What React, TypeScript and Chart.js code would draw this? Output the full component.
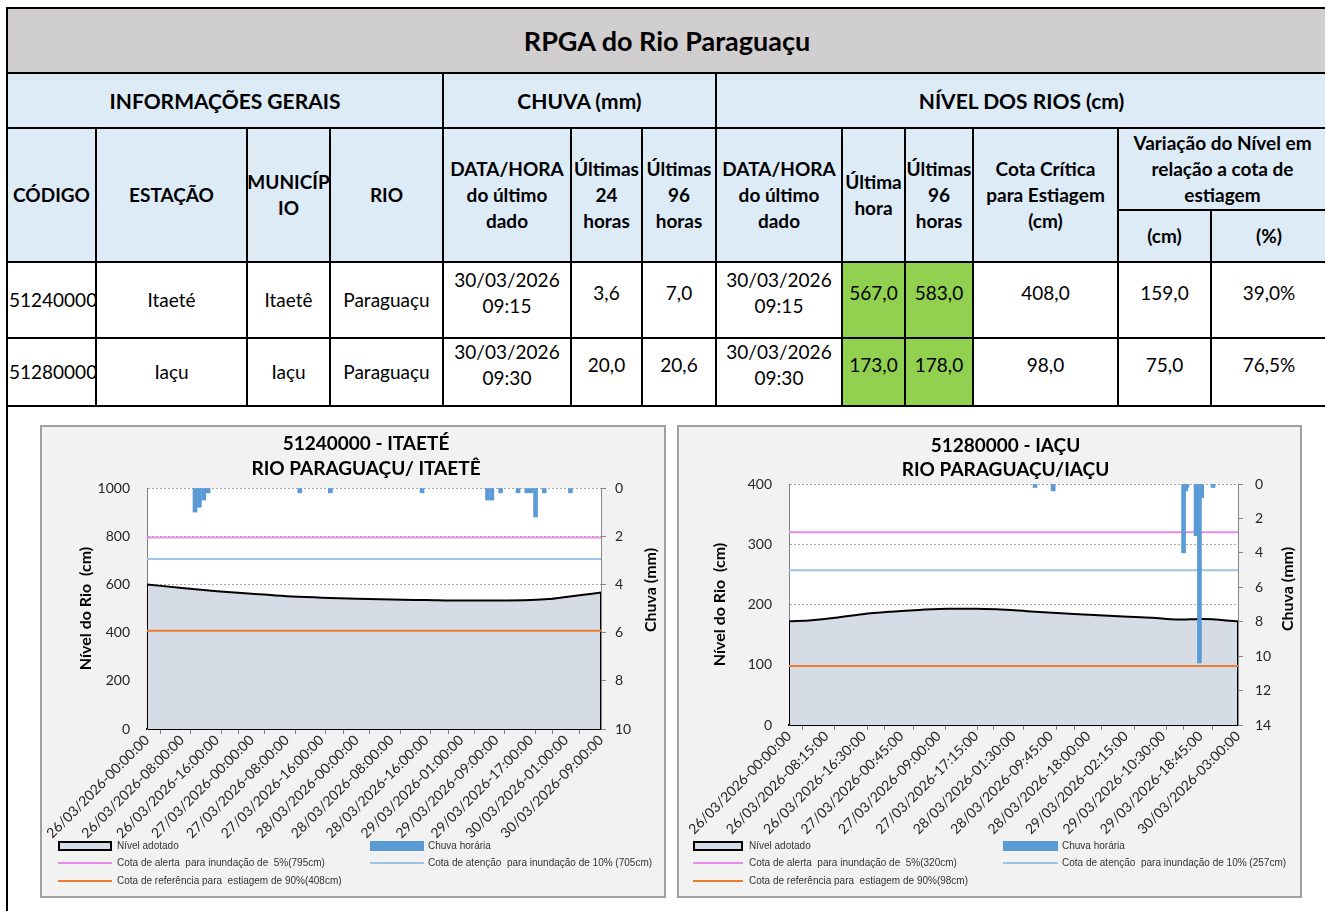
import React, { useEffect, useRef } from 'react';
import { Chart, registerables } from 'chart.js';

Chart.register(...registerables);
Chart.defaults.font.family = 'Lato';

// ---------------- table data ----------------
const TITLE = 'RPGA do Rio Paraguaçu';
const codigos = ['51240000', '51280000'];
const estacoes = ['Itaeté', 'Iaçu'];
const municipios = ['Itaetê', 'Iaçu'];
const rios = ['Paraguaçu', 'Paraguaçu'];
const chuvaDataHora = [['30/03/2026', '09:15'], ['30/03/2026', '09:30']];
const chuva24h = ['3,6', '20,0'];
const chuva96h = ['7,0', '20,6'];
const nivelDataHora = [['30/03/2026', '09:15'], ['30/03/2026', '09:30']];
const nivelUltimaHora = ['567,0', '173,0'];
const nivel96h = ['583,0', '178,0'];
const cotaCritica = ['408,0', '98,0'];
const variacaoCm = ['159,0', '75,0'];
const variacaoPct = ['39,0%', '76,5%'];

// ---------------- chart data: 51240000 - Itaeté (hourly index) ----------------
const ITAETE_TITLE = ['51240000 - ITAETÉ', 'RIO PARAGUAÇU/ ITAETÊ'];
const ITAETE_X_LABELS = [
  '26/03/2026-00:00:00', '26/03/2026-08:00:00', '26/03/2026-16:00:00', '27/03/2026-00:00:00',
  '27/03/2026-08:00:00', '27/03/2026-16:00:00', '28/03/2026-00:00:00', '28/03/2026-08:00:00',
  '28/03/2026-16:00:00', '29/03/2026-01:00:00', '29/03/2026-09:00:00', '29/03/2026-17:00:00',
  '30/03/2026-01:00:00', '30/03/2026-09:00:00',
];
const ITAETE_LEVEL: number[][] = [
  [0, 600], [8, 585], [16, 572], [24, 561], [32, 551], [40, 545], [48, 540], [56, 537],
  [64, 535], [72, 533], [80, 533], [88, 535], [92, 539], [96, 548], [100, 557], [104, 566],
];
const ITAETE_RAIN: number[][] = [
  [11, 1.0], [12, 0.8], [13, 0.5], [14, 0.2], [35, 0.2], [42, 0.2], [63, 0.2], [78, 0.5],
  [79, 0.5], [81, 0.2], [85, 0.2], [87, 0.2], [88, 0.2], [89, 1.2], [91, 0.2], [97, 0.2],
];
const ITAETE_ALERT = 795;
const ITAETE_ATTENTION = 705;
const ITAETE_DROUGHT = 408;

// ---------------- chart data: 51280000 - Iaçu (15-minute index) ----------------
const IACU_TITLE = ['51280000 - IAÇU', 'RIO PARAGUAÇU/IAÇU'];
const IACU_X_LABELS = [
  '26/03/2026-00:00:00', '26/03/2026-08:15:00', '26/03/2026-16:30:00', '27/03/2026-00:45:00',
  '27/03/2026-09:00:00', '27/03/2026-17:15:00', '28/03/2026-01:30:00', '28/03/2026-09:45:00',
  '28/03/2026-18:00:00', '29/03/2026-02:15:00', '29/03/2026-10:30:00', '29/03/2026-18:45:00',
  '30/03/2026-03:00:00',
];
const IACU_LEVEL: number[][] = [
  [0, 172], [20, 174], [41, 178], [65, 184], [90, 188], [115, 191], [141, 193], [165, 193],
  [183, 192], [210, 189], [236, 186], [265, 183], [295, 180], [320, 178], [343, 175], [365, 176],
  [396, 172],
];
const IACU_RAIN: number[][] = [
  [217, 0.2], [233, 0.4], [348, 4.0], [350, 0.4], [351, 0.2], [359, 3.0], [362, 10.4], [364, 0.8],
  [374, 0.2],
];
const IACU_ALERT = 320;
const IACU_ATTENTION = 257;
const IACU_DROUGHT = 98;

// ---------------- styles ----------------
const C_LEVEL_FILL = '#d6dce5';
const C_RAIN = '#5b9bd5';
const C_ALERT = '#e88ce8';
const C_ATTENTION = '#9dc3e6';
const C_DROUGHT = '#ed7d31';
const C_TEXT = '#262626';

type Station = {
  title: string[];
  xLabels: string[];
  labelStep: number;
  markStep: number;
  xMax: number;
  level: number[][];
  rain: number[][];
  alert: number;
  attention: number;
  drought: number;
  yMax: number;
  yStep: number;
  rainMax: number;
};

type Layout = {
  box: number[];
  canvas: number[];
  padTop: number;
  yW: number;
  y1W: number;
  xH: number;
  yTitlePad: number;
  y1Pad: number;
  titleBase: number[];
  rightTitleY: number;
  legend: { col1: number[]; col2: number[]; rows: number[] };
};

const ITAETE: Station = {
  title: ITAETE_TITLE, xLabels: ITAETE_X_LABELS, labelStep: 8, markStep: 6, xMax: 104,
  level: ITAETE_LEVEL, rain: ITAETE_RAIN, alert: ITAETE_ALERT, attention: ITAETE_ATTENTION,
  drought: ITAETE_DROUGHT, yMax: 1000, yStep: 200, rainMax: 10,
};
const IACU: Station = {
  title: IACU_TITLE, xLabels: IACU_X_LABELS, labelStep: 33, markStep: 24, xMax: 396,
  level: IACU_LEVEL, rain: IACU_RAIN, alert: IACU_ALERT, attention: IACU_ATTENTION,
  drought: IACU_DROUGHT, yMax: 400, yStep: 100, rainMax: 14,
};

const ITAETE_LAYOUT: Layout = {
  box: [40, 425, 626, 473], canvas: [42, 427, 622, 421], padTop: 61, yW: 105, y1W: 63, xH: 119,
  yTitlePad: 34, y1Pad: 9, titleBase: [23, 48], rightTitleY: 163,
  legend: { col1: [58, 54, 117], col2: [370, 54, 428], rows: [846, 863, 881] },
};
const IACU_LAYOUT: Layout = {
  box: [677, 425, 625, 473], canvas: [679, 427, 621, 421], padTop: 57, yW: 110, y1W: 62, xH: 123,
  yTitlePad: 31, y1Pad: 12, titleBase: [25, 49], rightTitleY: 162,
  legend: { col1: [693, 50, 749], col2: [1003, 55, 1062], rows: [846, 863, 881] },
};

function buildConfig(s: Station, L: Layout): any {
  const toPts = (a: number[][]) => a.map(([x, y]) => ({ x, y }));
  const flat = (v: number) => [{ x: 0, y: v }, { x: s.xMax, y: v }];
  const first = s.level[0];
  const last = s.level[s.level.length - 1];
  const labelPos = s.xLabels.map((_, i) => i * s.labelStep);
  const markPos: number[] = [];
  for (let v = 0; v <= s.xMax; v += s.markStep) markPos.push(v);
  const tickValues = Array.from(new Set([...labelPos, ...markPos])).sort((a, b) => a - b);

  const decorations = {
    id: 'decorations',
    beforeDraw(chart: any) {
      const { ctx, chartArea } = chart;
      ctx.save();
      ctx.fillStyle = '#ffffff';
      ctx.fillRect(chartArea.left, chartArea.top, chartArea.right - chartArea.left, chartArea.bottom - chartArea.top);
      ctx.restore();
    },
    afterDraw(chart: any) {
      const { ctx, chartArea } = chart;
      ctx.save();
      ctx.fillStyle = '#000';
      ctx.textAlign = 'center';
      ctx.textBaseline = 'alphabetic';
      ctx.font = 'bold 19px Lato';
      const cx = (chartArea.left + chartArea.right) / 2 - 8;
      s.title.forEach((t, i) => ctx.fillText(t, cx, L.titleBase[i]));
      ctx.translate(chartArea.right + 50, L.rightTitleY);
      ctx.rotate(-Math.PI / 2);
      ctx.textBaseline = 'middle';
      ctx.font = 'bold 16px Lato';
      ctx.fillText('Chuva (mm)', 0, 0);
      ctx.restore();
    },
  };

  return {
    type: 'line',
    data: {
      datasets: [
        {
          type: 'bar', label: 'Chuva horária', data: toPts(s.rain), yAxisID: 'y1',
          backgroundColor: C_RAIN, barThickness: 4, order: 1,
        },
        { label: 'alerta', data: flat(s.alert), borderColor: C_ALERT, borderWidth: 2, pointRadius: 0, yAxisID: 'y', order: 2 },
        { label: 'atencao', data: flat(s.attention), borderColor: C_ATTENTION, borderWidth: 2, pointRadius: 0, yAxisID: 'y', order: 2 },
        { label: 'estiagem', data: flat(s.drought), borderColor: C_DROUGHT, borderWidth: 2, pointRadius: 0, yAxisID: 'y', order: 2 },
        { label: 'edgeL', data: [{ x: first[0], y: 0 }, { x: first[0], y: first[1] }], borderColor: '#000', borderWidth: 2, pointRadius: 0, yAxisID: 'y', order: 3 },
        { label: 'edgeR', data: [{ x: last[0], y: 0 }, { x: last[0], y: last[1] }], borderColor: '#000', borderWidth: 2, pointRadius: 0, yAxisID: 'y', order: 3 },
        {
          label: 'Nível adotado', data: toPts(s.level), borderColor: '#000', borderWidth: 2,
          backgroundColor: C_LEVEL_FILL, fill: 'origin', pointRadius: 0,
          cubicInterpolationMode: 'monotone', yAxisID: 'y', order: 4,
        },
      ],
    },
    options: {
      animation: false,
      responsive: false,
      events: [],
      layout: { padding: { top: L.padTop, left: 0, right: 0, bottom: 0 } },
      plugins: { legend: { display: false }, title: { display: false }, tooltip: { enabled: false } },
      scales: {
        x: {
          type: 'linear', min: 0, max: s.xMax, offset: false,
          afterBuildTicks: (axis: any) => { axis.ticks = tickValues.map((value) => ({ value })); },
          afterFit: (axis: any) => { axis.height = L.xH; axis.paddingLeft = 0; axis.paddingRight = 0; },
          ticks: {
            autoSkip: false, minRotation: 45, maxRotation: 45, padding: -2, color: C_TEXT,
            font: { size: 14, family: 'Lato' },
            callback: (value: number) => (value % s.labelStep === 0 ? s.xLabels[value / s.labelStep] ?? '' : ''),
          },
          grid: {
            display: true, drawOnChartArea: false, drawTicks: true, tickLength: 5, tickWidth: 1,
            tickColor: (ctx: any) => (ctx.tick && ctx.tick.value % s.markStep === 0 ? '#7f7f7f' : 'rgba(0,0,0,0)'),
          },
          border: { display: true, color: '#000', width: 2 },
        },
        y: {
          type: 'linear', position: 'left', min: 0, max: s.yMax,
          afterFit: (axis: any) => { axis.width = L.yW; axis.paddingTop = 0; axis.paddingBottom = 0; },
          ticks: {
            stepSize: s.yStep, padding: 17, color: C_TEXT, font: { size: 14, family: 'Lato' },
            callback: (value: number) => String(value),
          },
          grid: { color: '#a6a6a6', lineWidth: 1, drawTicks: false },
          border: { display: true, color: '#7f7f7f', width: 1, dash: [2, 2] },
          title: {
            display: true, text: 'Nível do Rio  (cm)', color: '#000',
            font: { size: 16, weight: 'bold', family: 'Lato' }, padding: { top: L.yTitlePad, bottom: 0 },
          },
        },
        y1: {
          type: 'linear', position: 'right', min: 0, max: s.rainMax, reverse: true,
          afterFit: (axis: any) => { axis.width = L.y1W; axis.paddingTop = 0; axis.paddingBottom = 0; },
          ticks: {
            stepSize: 2, padding: L.y1Pad, color: C_TEXT, font: { size: 14, family: 'Lato' },
            callback: (value: number) => String(value),
          },
          grid: { drawOnChartArea: false, drawTicks: true, tickLength: 5, tickColor: '#868686' },
          border: { display: true, color: '#868686', width: 1 },
        },
      },
    },
    plugins: [decorations],
  };
}

function StationCanvas({ s, L }: { s: Station; L: Layout }) {
  const ref = useRef<HTMLCanvasElement>(null);
  useEffect(() => {
    if (!ref.current) return;
    const chart = new Chart(ref.current, buildConfig(s, L));
    return () => chart.destroy();
  }, [s, L]);
  const [x, y, w, h] = L.canvas;
  return <canvas ref={ref} width={w} height={h} style={{ position: 'absolute', left: x, top: y, width: w, height: h }} />;
}

function LegendItem({ x, w, tx, y, kind, color, text }: any) {
  let sym: any;
  if (kind === 'box') {
    sym = <div style={{ position: 'absolute', left: x, top: y - 5, width: w, height: 10, boxSizing: 'border-box', border: '2px solid #000', background: color }} />;
  } else if (kind === 'bar') {
    sym = <div style={{ position: 'absolute', left: x, top: y - 5, width: w, height: 10, background: color }} />;
  } else {
    sym = <div style={{ position: 'absolute', left: x, top: y - 1, width: w, height: 2, background: color }} />;
  }
  return (
    <>
      {sym}
      <div style={{ position: 'absolute', left: tx, top: y - 7, height: 14, lineHeight: '14px', fontFamily: 'Liberation Sans', fontSize: 10, color: '#333', whiteSpace: 'pre' }}>{text}</div>
    </>
  );
}

function Panel({ s, L }: { s: Station; L: Layout }) {
  const [bx, by, bw, bh] = L.box;
  const { col1, col2, rows } = L.legend;
  return (
    <>
      <div style={{ position: 'absolute', left: bx, top: by, width: bw, height: bh, boxSizing: 'border-box', border: '2px solid #a0a0a0', background: '#f2f2f2' }} />
      <StationCanvas s={s} L={L} />
      <LegendItem x={col1[0]} w={col1[1]} tx={col1[2]} y={rows[0]} kind="box" color={C_LEVEL_FILL} text="Nível adotado" />
      <LegendItem x={col2[0]} w={col2[1]} tx={col2[2]} y={rows[0]} kind="bar" color={C_RAIN} text="Chuva horária" />
      <LegendItem x={col1[0]} w={col1[1]} tx={col1[2]} y={rows[1]} kind="line" color={C_ALERT} text={`Cota de alerta  para inundação de  5%(${s.alert}cm)`} />
      <LegendItem x={col2[0]} w={col2[1]} tx={col2[2]} y={rows[1]} kind="line" color={C_ATTENTION} text={`Cota de atenção  para inundação de 10% (${s.attention}cm)`} />
      <LegendItem x={col1[0]} w={col1[1]} tx={col1[2]} y={rows[2]} kind="line" color={C_DROUGHT} text={`Cota de referência para  estiagem de 90%(${s.drought}cm)`} />
    </>
  );
}

const COLS = [7, 96, 247, 330, 443, 571, 642, 716, 842, 905, 973, 1118, 1211, 1327];
const BLUE = '#ddebf7';
const GREEN = '#92d050';

function Cell({ c1, c2, y1, y2, bg, bold, size, lines, left, up }: any) {
  const x1 = COLS[c1];
  const x2 = COLS[c2];
  return (
    <div style={{
      position: 'absolute', left: x1 - 1, top: y1 - 1, width: x2 - x1 + 2, height: y2 - y1 + 2,
      boxSizing: 'border-box', border: '2px solid #000', background: bg || '#fff',
      display: 'flex', flexDirection: 'column', justifyContent: 'center',
      alignItems: left ? 'flex-start' : 'center', textAlign: 'center',
      fontFamily: 'Lato', fontWeight: bold ? 700 : 400, fontSize: size || 19, lineHeight: '26px',
      paddingBottom: up ? up * 2 : 0, paddingLeft: left ? 1 : 0, whiteSpace: 'nowrap', color: '#000',
    }}>
      {lines.map((t: string, i: number) => <div key={i}>{t}</div>)}
    </div>
  );
}

function Table() {
  const rowsY = [[262, 338], [338, 406]];
  return (
    <>
      <Cell c1={0} c2={13} y1={8} y2={73} bg="#d0cece" bold size={27} lines={[TITLE]} />
      <Cell c1={0} c2={4} y1={73} y2={128} bg={BLUE} bold size={21} lines={['INFORMAÇÕES GERAIS']} />
      <Cell c1={4} c2={7} y1={73} y2={128} bg={BLUE} bold size={21} lines={['CHUVA (mm)']} />
      <Cell c1={7} c2={13} y1={73} y2={128} bg={BLUE} bold size={21} lines={['NÍVEL DOS RIOS (cm)']} />
      <Cell c1={0} c2={1} y1={128} y2={262} bg={BLUE} bold lines={['CÓDIGO']} />
      <Cell c1={1} c2={2} y1={128} y2={262} bg={BLUE} bold lines={['ESTAÇÃO']} />
      <Cell c1={2} c2={3} y1={128} y2={262} bg={BLUE} bold lines={['MUNICÍP', 'IO']} />
      <Cell c1={3} c2={4} y1={128} y2={262} bg={BLUE} bold lines={['RIO']} />
      <Cell c1={4} c2={5} y1={128} y2={262} bg={BLUE} bold lines={['DATA/HORA', 'do último', 'dado']} />
      <Cell c1={5} c2={6} y1={128} y2={262} bg={BLUE} bold lines={['Últimas', '24', 'horas']} />
      <Cell c1={6} c2={7} y1={128} y2={262} bg={BLUE} bold lines={['Últimas', '96', 'horas']} />
      <Cell c1={7} c2={8} y1={128} y2={262} bg={BLUE} bold lines={['DATA/HORA', 'do último', 'dado']} />
      <Cell c1={8} c2={9} y1={128} y2={262} bg={BLUE} bold lines={['Última', 'hora']} />
      <Cell c1={9} c2={10} y1={128} y2={262} bg={BLUE} bold lines={['Últimas', '96', 'horas']} />
      <Cell c1={10} c2={11} y1={128} y2={262} bg={BLUE} bold lines={['Cota Crítica', 'para Estiagem', '(cm)']} />
      <Cell c1={11} c2={13} y1={128} y2={210} bg={BLUE} bold lines={['Variação do Nível em', 'relação a cota de', 'estiagem']} />
      <Cell c1={11} c2={12} y1={210} y2={262} bg={BLUE} bold lines={['(cm)']} />
      <Cell c1={12} c2={13} y1={210} y2={262} bg={BLUE} bold lines={['(%)']} />
      {rowsY.map(([y1, y2], i) => (
        <React.Fragment key={i}>
          <Cell c1={0} c2={1} y1={y1} y2={y2} left lines={[codigos[i]]} />
          <Cell c1={1} c2={2} y1={y1} y2={y2} lines={[estacoes[i]]} />
          <Cell c1={2} c2={3} y1={y1} y2={y2} lines={[municipios[i]]} />
          <Cell c1={3} c2={4} y1={y1} y2={y2} lines={[rios[i]]} />
          <Cell c1={4} c2={5} y1={y1} y2={y2} up={7} lines={chuvaDataHora[i]} />
          <Cell c1={5} c2={6} y1={y1} y2={y2} up={7} lines={[chuva24h[i]]} />
          <Cell c1={6} c2={7} y1={y1} y2={y2} up={7} lines={[chuva96h[i]]} />
          <Cell c1={7} c2={8} y1={y1} y2={y2} up={7} lines={nivelDataHora[i]} />
          <Cell c1={8} c2={9} y1={y1} y2={y2} up={7} bg={GREEN} lines={[nivelUltimaHora[i]]} />
          <Cell c1={9} c2={10} y1={y1} y2={y2} up={7} bg={GREEN} lines={[nivel96h[i]]} />
          <Cell c1={10} c2={11} y1={y1} y2={y2} up={7} lines={[cotaCritica[i]]} />
          <Cell c1={11} c2={12} y1={y1} y2={y2} up={7} lines={[variacaoCm[i]]} />
          <Cell c1={12} c2={13} y1={y1} y2={y2} up={7} lines={[variacaoPct[i]]} />
        </React.Fragment>
      ))}
    </>
  );
}

export default function App() {
  return (
    <div style={{ position: 'relative', width: 1325, height: 911, overflow: 'hidden', background: '#fff', fontFamily: 'Lato' }}>
      <style>{'html,body{margin:0;padding:0;background:#fff;}'}</style>
      <Table />
      <div style={{ position: 'absolute', left: 6, top: 405, width: 2, height: 520, background: '#000' }} />
      <Panel s={ITAETE} L={ITAETE_LAYOUT} />
      <Panel s={IACU} L={IACU_LAYOUT} />
    </div>
  );
}
